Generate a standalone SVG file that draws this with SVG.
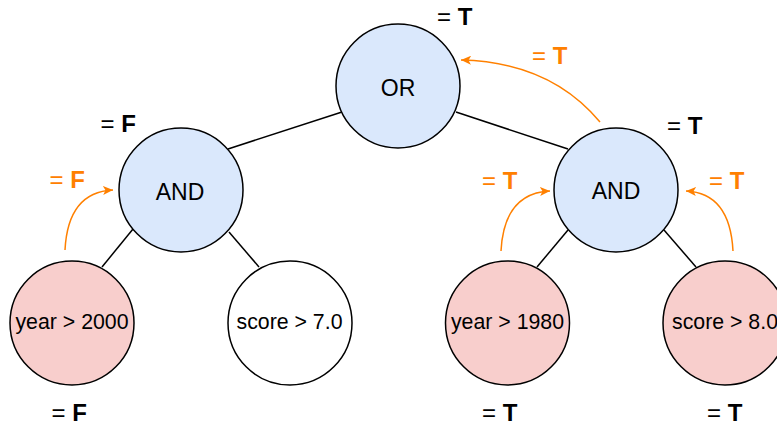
<svg xmlns="http://www.w3.org/2000/svg" width="777" height="425" viewBox="0 0 777 425">
<defs>
<style>
.n{stroke:#000;stroke-width:1.5}
.op{fill:#dae8fc}
.hit{fill:#f8cecc}
.miss{fill:#fff}
.t{font-family:"Liberation Sans",Arial,sans-serif;font-size:21.3px;fill:#000;text-anchor:middle}
.big{font-size:23px}
.lbl{font-family:"Liberation Sans",Arial,sans-serif;font-size:24px;fill:#000}
.lbl tspan.b{font-weight:bold}
.or{fill:#ff8000}
.edge{stroke:#000;stroke-width:1.5;fill:none}
.flow{stroke:#ff8000;stroke-width:1.5;fill:none;marker-end:url(#ah)}
</style>
<marker id="ah" markerUnits="userSpaceOnUse" markerWidth="11" markerHeight="9" refX="10" refY="4.5" orient="auto">
<path d="M0,0 L10,4.5 L0,9 L2.5,4.5 z" fill="#ff8000"/>
</marker>
</defs>
<g id="connectors">
<line class="edge" x1="342" y1="112" x2="228" y2="149"/>
<line class="edge" x1="456" y1="112" x2="568" y2="149"/>
<line class="edge" x1="133" y1="229" x2="102" y2="267"/>
<line class="edge" x1="229" y1="232" x2="259" y2="267"/>
<line class="edge" x1="568" y1="230" x2="537" y2="267"/>
<line class="edge" x1="664" y1="230" x2="696" y2="267"/>
<path class="flow" d="M65,250 Q68,192 113,190"/>
<path class="flow" d="M501,251 Q504,193 550,191"/>
<path class="flow" d="M733,251 Q730,193 686,191"/>
<path class="flow" d="M600,122 Q550,62 461,60"/>
</g>
<g id="or">
<circle class="n op" cx="398" cy="86" r="62"/>
<text class="t big" x="398" y="96">OR</text>
</g>
<g id="and-left">
<circle class="n op" cx="181" cy="190" r="62"/>
<text class="t big" x="180" y="199.5">AND</text>
</g>
<g id="and-right">
<circle class="n op" cx="616" cy="190" r="62"/>
<text class="t big" x="616" y="198.5">AND</text>
</g>
<g id="year2000">
<circle class="n hit" cx="72" cy="323" r="62"/>
<text class="t" x="72" y="328.5">year &gt; 2000</text>
</g>
<g id="score7">
<circle class="n miss" cx="290" cy="323" r="62"/>
<text class="t" x="289.5" y="328.5">score &gt; 7.0</text>
</g>
<g id="year1980">
<circle class="n hit" cx="507.5" cy="323" r="62"/>
<text class="t" x="507.5" y="328.5">year &gt; 1980</text>
</g>
<g id="score8">
<circle class="n hit" cx="725" cy="323" r="62"/>
<text class="t" x="725" y="328.5">score &gt; 8.0</text>
</g>
<g id="labels">
<text class="lbl" x="437" y="25">= <tspan class="b">T</tspan></text>
<text class="lbl or" x="532" y="63.5">= <tspan class="b">T</tspan></text>
<text class="lbl" x="100.5" y="132">= <tspan class="b">F</tspan></text>
<text class="lbl or" x="49.5" y="187.5">= <tspan class="b">F</tspan></text>
<text class="lbl or" x="482" y="188.5">= <tspan class="b">T</tspan></text>
<text class="lbl" x="667" y="134">= <tspan class="b">T</tspan></text>
<text class="lbl or" x="709" y="188.5">= <tspan class="b">T</tspan></text>
<text class="lbl" x="51.5" y="421">= <tspan class="b">F</tspan></text>
<text class="lbl" x="482" y="421">= <tspan class="b">T</tspan></text>
<text class="lbl" x="707" y="421">= <tspan class="b">T</tspan></text>
</g>
</svg>
